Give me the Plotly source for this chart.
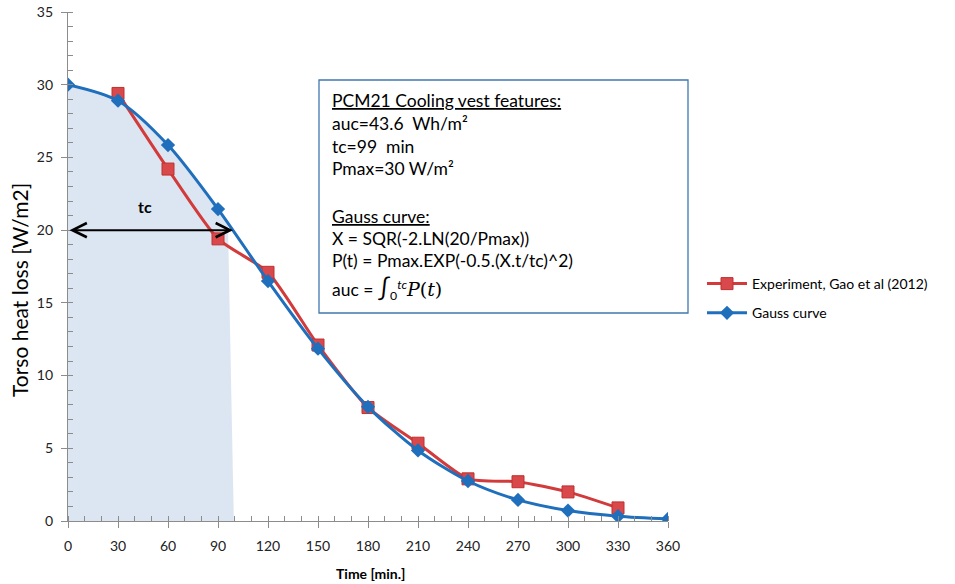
import plotly.graph_objects as go

# ---- data ----
time_min = [0, 30, 60, 90, 120, 150, 180, 210, 240, 270, 300, 330, 360]
gauss_w = [30.0, 28.9, 25.85, 21.45, 16.5, 11.85, 7.85, 4.85, 2.75, 1.45, 0.72, 0.33, 0.14]

exp_time = [30, 60, 90, 120, 150, 180, 210, 240, 270, 300, 330]
exp_w = [29.4, 24.2, 19.4, 17.1, 12.1, 7.8, 5.35, 2.9, 2.7, 2.0, 0.9]

# shaded area under the Gauss curve up to tc
fill_x = [0, 30, 60, 90, 96]
fill_y = [30.0, 28.9, 25.85, 21.45, 20.3]
fill_end_x = [96, 99.5, 96]
fill_end_y = [20.3, 0, 0]

tc = 99
arrow_y = 20

x_ticks = [0, 30, 60, 90, 120, 150, 180, 210, 240, 270, 300, 330, 360]
y_ticks = [0, 5, 10, 15, 20, 25, 30, 35]

box_lines = [
    "<u>PCM21 Cooling vest features:</u>",
    "auc=43.6  Wh/m²",
    "tc=99  min",
    "Pmax=30 W/m²",
    "",
    "<u>Gauss curve:</u>",
    "X = SQR(-2.LN(20/Pmax))",
    "P(t) = Pmax.EXP(-0.5.(X.t/tc)^2)",
    "auc = <span style='font-size:24px'>∫</span><sub>0</sub><sup><i>tc</i></sup>"
    "<span style='font-family:DejaVu Serif;font-size:19px'><i>P</i>(<i>t</i>)</span>",
]

FONT = "Lato, 'Open Sans', sans-serif"
RED = "#d23b3b"
RED_MK = "#d9484a"
BLUE = "#1f6fbd"
FILL = "#dce6f2"

W, H = 955, 584
# plot area in reference pixels
PL, PR, PT, PB = 68, 668, 12, 521
PW, PH = PR - PL, PB - PT


def px(xp):
    return (xp - PL) / PW


def py(yp):
    return (PB - yp) / PH


fig = go.Figure()

fig.add_trace(go.Scatter(
    x=fill_x, y=fill_y, mode="lines", line=dict(width=0, shape="spline"),
    fill="tozeroy", fillcolor=FILL, showlegend=False, hoverinfo="skip"))
fig.add_trace(go.Scatter(
    x=fill_end_x, y=fill_end_y, mode="lines", line=dict(width=0),
    fill="toself", fillcolor=FILL, showlegend=False, hoverinfo="skip"))

fig.add_trace(go.Scatter(
    x=exp_time, y=exp_w, mode="lines+markers",
    name="Experiment, Gao et al (2012)", legendgroup="exp",
    line=dict(color=RED, width=3, shape="spline", smoothing=0.6),
    marker=dict(symbol="square", size=12, color=RED_MK, line=dict(color="#c03030", width=1))))

fig.add_trace(go.Scatter(
    x=time_min, y=gauss_w, mode="lines+markers", name="Gauss curve", legendgroup="gauss",
    line=dict(color=BLUE, width=3, shape="spline", smoothing=0.8),
    marker=dict(symbol="diamond", size=11, color=BLUE)))

# double-headed tc arrow
fig.add_annotation(x=tc, y=arrow_y, ax=0, ay=arrow_y, xref="x", yref="y",
                   axref="x", ayref="y", text="", showarrow=True,
                   arrowhead=5, arrowside="end+start", arrowsize=1.4,
                   arrowwidth=2, arrowcolor="black")
fig.add_annotation(x=46, y=21.6, xref="x", yref="y", text="<b>tc</b>", showarrow=False,
                   font=dict(family=FONT, size=16, color="black"), yanchor="middle")

# text box
fig.add_shape(type="rect", xref="paper", yref="paper",
              x0=px(319), x1=px(688), y0=py(313), y1=py(80),
              line=dict(color="#3f78b0", width=1.3), fillcolor="white", layer="above")
line_px = [100, 123, 146, 168, 190, 216, 238, 260, 287]
for txt, yp in zip(box_lines, line_px):
    if not txt:
        continue
    fig.add_annotation(x=px(330), y=py(yp), xref="paper", yref="paper",
                       text=txt, showarrow=False, xanchor="left", yanchor="middle",
                       align="left", font=dict(family=FONT, size=17.5, color="black"))

# axis titles
fig.add_annotation(x=px(19), y=py(290), xref="paper", yref="paper",
                   text="Torso heat loss [W/m2]", textangle=-90, showarrow=False,
                   xanchor="center", yanchor="middle",
                   font=dict(family=FONT, size=21, color="black"))
fig.add_annotation(x=px(370), y=py(573), xref="paper", yref="paper",
                   text="<b>Time [min.]</b>", showarrow=False,
                   xanchor="center", yanchor="middle",
                   font=dict(family=FONT, size=14, color="black"))

fig.update_layout(
    width=W, height=H,
    margin=dict(l=PL, r=W - PR, t=PT, b=H - PB, autoexpand=False),
    paper_bgcolor="white", plot_bgcolor="white",
    font=dict(family=FONT, color="#222"),
    showlegend=True,
    legend=dict(x=px(702), y=py(268), xanchor="left", yanchor="top",
                font=dict(family=FONT, size=14, color="black"),
                bgcolor="rgba(0,0,0,0)", traceorder="grouped", tracegroupgap=8,
                itemwidth=40),
    xaxis=dict(range=[0, 360], tickvals=x_ticks, ticktext=[str(v) for v in x_ticks],
               automargin=False,
               showgrid=False, zeroline=False, showline=True, linecolor="#8c8c8c",
               linewidth=1.3, ticks="outside", ticklen=6, tickcolor="#8c8c8c",
               ticklabelstandoff=6,
               tickfont=dict(family=FONT, size=14, color="#222"),
               minor=dict(dtick=10, tick0=0, ticks="inside", ticklen=5, tickcolor="#8c8c8c")),
    yaxis=dict(range=[0, 35], tickvals=y_ticks, ticktext=[str(v) for v in y_ticks],
               automargin=False,
               showgrid=False, zeroline=False, showline=True, linecolor="#8c8c8c",
               linewidth=1.3, ticks="outside", ticklen=6, tickcolor="#8c8c8c",
               ticklabelstandoff=5,
               tickfont=dict(family=FONT, size=14, color="#222"),
               minor=dict(dtick=1, tick0=0, ticks="inside", ticklen=5, tickcolor="#8c8c8c")),
)

fig.write_html("out.html", config={"displayModeBar": False},
               post_script="document.body.style.margin='0';")
